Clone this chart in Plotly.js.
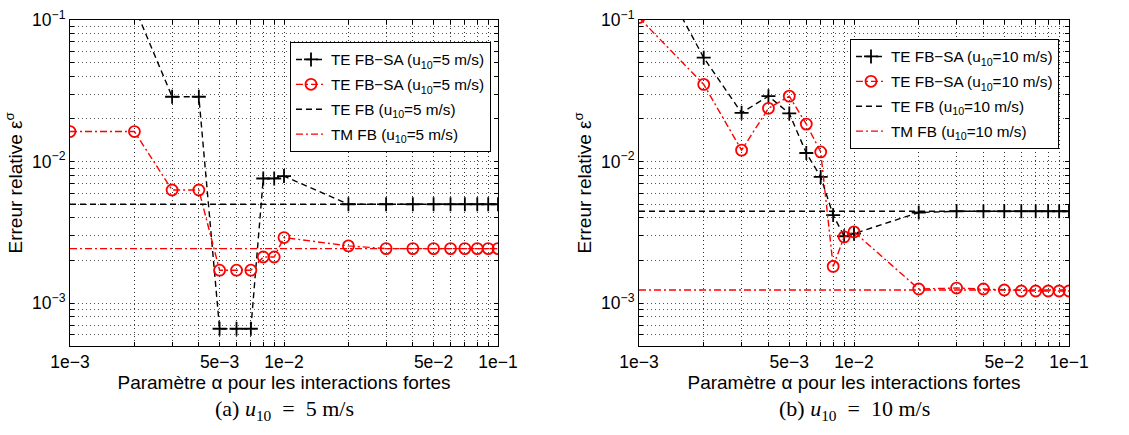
<!DOCTYPE html>
<html>
<head>
<meta charset="utf-8">
<script src="https://cdn.plot.ly/plotly-3.0.1.min.js"></script>
<style>html,body{margin:0;padding:0;background:#fff;}#chart{width:1129px;height:435px;}</style>
</head>
<body>
<div id="chart"></div>
<script>
// ---- data ----
const alpha = [0.001,0.002,0.003,0.004,0.005,0.006,0.007,0.008,0.009,
               0.01,0.02,0.03,0.04,0.05,0.06,0.07,0.08,0.09,0.1];
// u10 = 5 m/s
const teSA5 = [0.2,0.124,0.0287,0.0287,6.6e-4,6.6e-4,6.6e-4,7.6e-3,7.6e-3,7.9e-3,
               5.0e-3,5.0e-3,5.0e-3,5.0e-3,5.0e-3,5.0e-3,5.0e-3,5.0e-3,5.0e-3];
const tmSA5 = [0.0163,0.0163,6.3e-3,6.3e-3,1.71e-3,1.71e-3,1.71e-3,2.12e-3,2.12e-3,2.91e-3,
               2.54e-3,2.43e-3,2.43e-3,2.43e-3,2.43e-3,2.43e-3,2.43e-3,2.43e-3,2.43e-3];
const teFB5 = 5.0e-3;
const tmFB5 = 2.43e-3;
// u10 = 10 m/s
const teSA10 = [0.38,0.0542,0.0221,0.029,0.0219,0.0115,7.8e-3,4.19e-3,2.97e-3,3.1e-3,
                4.37e-3,4.46e-3,4.46e-3,4.46e-3,4.46e-3,4.46e-3,4.46e-3,4.46e-3,4.46e-3];
const tmSA10 = [0.104,0.0351,0.01205,0.0238,0.029,0.0184,0.0117,1.82e-3,2.94e-3,3.19e-3,
                1.26e-3,1.28e-3,1.26e-3,1.24e-3,1.22e-3,1.22e-3,1.22e-3,1.22e-3,1.22e-3];
const teFB10 = 4.46e-3;
const tmFB10 = 1.24e-3;

const xRange = [0.001, 0.1];
const xTickVals = [0.001,0.005,0.01,0.05,0.1];
const xTickText = ['1e\u22123','5e\u22123','1e\u22122','5e\u22122','1e\u22121'];
const yTickVals = [0.001,0.01,0.1];
const yTickText = ['10<sup>\u22123</sup>','10<sup>\u22122</sup>','10<sup>\u22121</sup>'];
const NB='\u00a0';
const captions = ['(a) <i>u</i><sub>10</sub>'+NB+NB+'='+NB+NB+'5 m/s',
                  '(b) <i>u</i><sub>10</sub>'+NB+NB+'='+NB+NB+'10 m/s'];
const speeds = ['5','10'];

// ---- grid lines at every log subdivision ----
function logGrid(lo, hi){
  const v=[]; for(let e=lo;e<hi;e++){for(let m=1;m<10;m++){v.push(m*Math.pow(10,e));}} v.push(Math.pow(10,hi)); return v;
}
function labelsFor(vals, labVals, labText){
  return vals.map(v=>{const i=labVals.findIndex(t=>Math.abs(t-v)/v<1e-6);return i>=0?labText[i]:'';});
}
const xg = logGrid(-3,-1);
const yg = logGrid(-4,-1).filter(v=>v>=4.9e-4);

const BLK='#000000', RED='#ff0000';
const DASH='6px,4px', DASHDOT='7px,3px,2px,3px';
const FONT="'Liberation Sans', Arial, Helvetica, sans-serif";
const SERIF="'Liberation Serif', 'DejaVu Serif', serif";

function tracesFor(ySA_te, ySA_tm, yTe, yTm, sp, xa, ya, lg){
  const lab = t => t+' (u<sub>10</sub>='+sp+' m/s)';
  return [
    {x:alpha,y:ySA_te,xaxis:xa,yaxis:ya,legend:lg,legendgroup:lg+'a',name:lab('TE FB\u2212SA'),mode:'lines+markers',
     line:{color:BLK,width:1.4,dash:DASH},marker:{symbol:'cross-thin',size:10,line:{color:BLK,width:1.8}}},
    {x:alpha,y:ySA_tm,xaxis:xa,yaxis:ya,legend:lg,legendgroup:lg+'b',name:lab('TE FB\u2212SA'),mode:'lines+markers',
     line:{color:RED,width:1.4,dash:DASHDOT},marker:{symbol:'circle-open',size:11,color:RED,line:{color:RED,width:1.8}}},
    {x:xRange,y:[yTe,yTe],xaxis:xa,yaxis:ya,legend:lg,legendgroup:lg+'c',name:lab('TE FB'),mode:'lines',
     line:{color:BLK,width:1.4,dash:DASH}},
    {x:xRange,y:[yTm,yTm],xaxis:xa,yaxis:ya,legend:lg,legendgroup:lg+'d',name:lab('TM FB'),mode:'lines',
     line:{color:RED,width:1.4,dash:DASHDOT}}
  ];
}

const data = [
  ...tracesFor(teSA5,tmSA5,teFB5,tmFB5,speeds[0],'x','y','legend'),
  ...tracesFor(teSA10,tmSA10,teFB10,tmFB10,speeds[1],'x2','y2','legend2')
];

function xAxis(dom, anchor){
  return {type:'log',domain:dom,anchor:anchor,range:[Math.log10(xRange[0]),Math.log10(xRange[1])],
    tickmode:'array',tickvals:xg,ticktext:labelsFor(xg,xTickVals,xTickText),
    ticks:'inside',ticklen:4,tickcolor:BLK,showline:true,linecolor:BLK,linewidth:1,mirror:'ticks',
    showgrid:true,gridcolor:'rgba(0,0,0,0.8)',griddash:'1px,3px',gridwidth:1,zeroline:false,
    tickfont:{family:FONT,size:17.5,color:BLK},
    title:{text:'Param\u00e8tre \u03b1 pour les interactions fortes',font:{family:FONT,size:19,color:BLK},standoff:1}};
}
function yAxis(dom, anchor){
  return {type:'log',domain:dom,anchor:anchor,range:[-3.3,-1],
    tickmode:'array',tickvals:yg,ticktext:labelsFor(yg,yTickVals,yTickText),
    ticks:'inside',ticklen:4,tickcolor:BLK,showline:true,linecolor:BLK,linewidth:1,mirror:'ticks',
    showgrid:true,gridcolor:'rgba(0,0,0,0.65)',griddash:'1px,3px',gridwidth:1,zeroline:false,
    tickfont:{family:FONT,size:17.5,color:BLK},
    title:{text:'Erreur relative \u03b5<sup>\u03c3</sup>',font:{family:FONT,size:19,color:BLK},standoff:4}};
}

const H=435, W=1129;
const yd=[(H-345.7)/H,(H-20)/H];
const legendCommon = {bgcolor:'#ffffff',bordercolor:BLK,borderwidth:1,font:{family:FONT,size:15.3,color:BLK},
  xanchor:'left',yanchor:'top',itemwidth:30,tracegroupgap:2};

const layout = {
  width:W,height:H,margin:{l:0,r:0,t:0,b:0},paper_bgcolor:'#fff',plot_bgcolor:'#fff',
  showlegend:true,
  xaxis:xAxis([70/W,498/W],'y'),
  yaxis:yAxis(yd,'x'),
  xaxis2:xAxis([639/W,1069/W],'y2'),
  yaxis2:yAxis(yd,'x2'),
  legend:Object.assign({},legendCommon,{x:290/W,y:(H-42)/H}),
  legend2:Object.assign({},legendCommon,{x:850/W,y:(H-39)/H}),
  annotations:[
    {text:captions[0],x:284/W,y:(H-410)/H,xref:'paper',yref:'paper',showarrow:false,xanchor:'center',yanchor:'middle',
     font:{family:SERIF,size:22,color:BLK}},
    {text:captions[1],x:854/W,y:(H-410)/H,xref:'paper',yref:'paper',showarrow:false,xanchor:'center',yanchor:'middle',
     font:{family:SERIF,size:22,color:BLK}}
  ]
};

Plotly.newPlot('chart',data,layout,{staticPlot:true,displayModeBar:false});
</script>
</body>
</html>
